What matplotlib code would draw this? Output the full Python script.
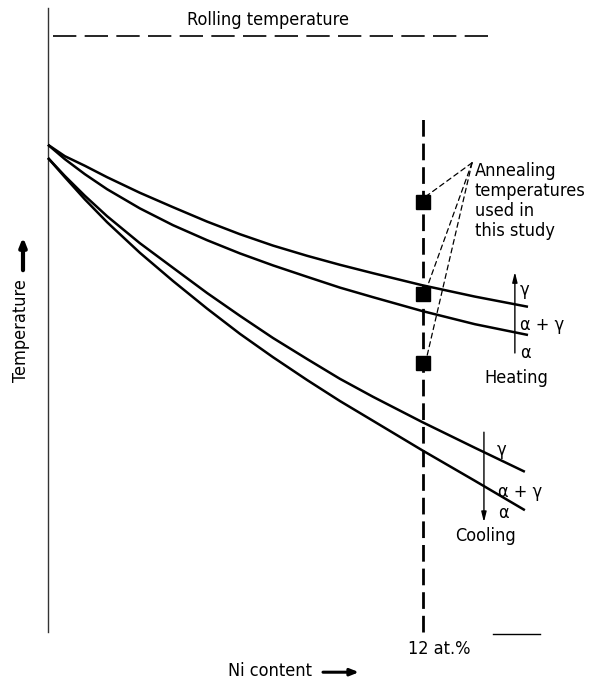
# Schematic: transformation temperatures vs Ni content, heating and cooling
import matplotlib
matplotlib.use('Agg')
import matplotlib.pyplot as plt
from matplotlib import font_manager

# narrow font if there is one, the original lettering is condensed
fonts = font_manager.fontManager.ttflist
names = {f.name for f in fonts}
fs = 12
if 'Liberation Sans Narrow' in names:
    plt.rcParams['font.family'] = ['Liberation Sans Narrow', 'DejaVu Sans']
    fs = 13.5
elif any(f.name == 'DejaVu Sans' and 'condensed' in str(f.stretch) for f in fonts):
    plt.rcParams['font.family'] = ['DejaVu Sans']
    plt.rcParams['font.stretch'] = 'condensed'
    fs = 13
else:
    plt.rcParams['font.family'] = ['DejaVu Sans']

# Ni content (at.%) and temperature (arbitrary units)
ni_heat = [0, 0.54, 1.18, 1.89, 2.94, 4.0, 5.09, 6.14, 7.2, 8.29, 9.34,
           10.4, 11.97, 13.66, 15.36]
t_heat_up = [81.2, 79.3, 77.7, 75.8, 73.2, 70.8, 68.4, 66.3, 64.4, 62.7,
             61.2, 59.8, 57.8, 55.9, 54.2]
t_heat_lo = [81.2, 78.8, 76.3, 73.8, 70.6, 67.8, 65.3, 63.1, 61.1, 59.2,
             57.4, 55.8, 53.5, 51.3, 49.5]
ni_cool = [0, 0.54, 1.18, 1.89, 2.94, 4.0, 5.09, 6.14, 7.2, 8.29, 9.34,
           10.4, 11.97, 13.66, 15.26]
t_cool_up = [79.0, 76.0, 72.7, 69.3, 64.8, 60.7, 56.5, 52.7, 49.0, 45.5,
             42.2, 39.2, 35.0, 30.7, 26.7]
t_cool_lo = [79.0, 75.8, 72.1, 68.3, 63.2, 58.5, 53.9, 49.7, 45.8, 42.0,
             38.5, 35.2, 30.3, 25.2, 20.3]

# annealing temperatures at 12 at.% Ni
ni_anneal = 12.0
t_anneal = [71.7, 56.3, 44.8]

t_rolling = 99.3
ni_roll = [0.16, 14.15]

fig = plt.figure(figsize=(5.96, 6.85), dpi=100)
ax = fig.add_axes([0, 0, 1, 1])
ax.set_xlim(-1.536, 17.536)
ax.set_ylim(-8.833, 105.33)
ax.axis('off')

# left axis line
ax.plot([0, 0], [0, 104], color='#333333', lw=1.0)
# stray bit of bottom axis
ax.plot([14.24, 15.74], [-0.3, -0.3], color='black', lw=1.0)

# rolling temperature
ax.plot(ni_roll, [t_rolling, t_rolling], color='black', lw=1.2, dashes=(14, 5))
ax.text(4.45, 102.0, 'Rolling temperature', fontsize=fs, va='center', ha='left')

# 12 at.% line
ax.plot([ni_anneal, ni_anneal], [0, 86.2], color='black', lw=2.0, dashes=(6, 2.5))
ax.text(11.52, -2.8, '12 at.%', fontsize=fs, va='center', ha='left')

# curves
for xs, ys in [(ni_heat, t_heat_up), (ni_heat, t_heat_lo),
               (ni_cool, t_cool_up), (ni_cool, t_cool_lo)]:
    ax.plot(xs, ys, color='black', lw=1.8, solid_capstyle='butt',
            solid_joinstyle='round')

# annealing squares
ax.plot([ni_anneal] * len(t_anneal), t_anneal, 's', color='black', ms=9.5)

# leader lines to label
anchor = (13.57, 78.2)
for t in t_anneal:
    ax.annotate('', xy=(ni_anneal + 0.12, t + 1.0), xytext=anchor,
                arrowprops=dict(arrowstyle='-', ls=(0, (4, 3)), lw=0.9,
                                color='black', shrinkA=0, shrinkB=0))
ax.text(13.65, 78.4, 'Annealing\ntemperatures\nused in\nthis study',
        fontsize=fs, va='top', ha='left', linespacing=1.15)

# heating arrow and labels
ax.annotate('', xy=(14.94, 60.0), xytext=(14.94, 46.5),
            arrowprops=dict(arrowstyle='-|>,head_width=0.15,head_length=0.6',
                            lw=1.0, color='black', shrinkA=0, shrinkB=0))
ax.text(15.1, 57.0, 'γ', fontsize=fs, va='center', ha='left')
ax.text(15.1, 51.2, 'α + γ', fontsize=fs, va='center', ha='left')
ax.text(15.1, 46.5, 'α', fontsize=fs, va='center', ha='left')
ax.text(15.0, 42.3, 'Heating', fontsize=fs, va='center', ha='center')

# cooling arrow and labels
ax.annotate('', xy=(13.95, 18.3), xytext=(13.95, 33.3),
            arrowprops=dict(arrowstyle='-|>,head_width=0.15,head_length=0.6',
                            lw=1.0, color='black', shrinkA=0, shrinkB=0))
ax.text(14.37, 30.3, 'γ', fontsize=fs, va='center', ha='left')
ax.text(14.4, 23.3, 'α + γ', fontsize=fs, va='center', ha='left')
ax.text(14.4, 19.8, 'α', fontsize=fs, va='center', ha='left')
ax.text(14.0, 16.0, 'Cooling', fontsize=fs, va='center', ha='center')

# axis labels with arrows
ax.text(8.45, -6.5, 'Ni content', fontsize=fs, va='center', ha='right')
ax.annotate('', xy=(9.95, -6.7), xytext=(8.8, -6.7),
            arrowprops=dict(arrowstyle='-|>,head_width=0.2,head_length=0.5',
                            lw=2.2, color='black', shrinkA=0, shrinkB=0))
ax.text(-0.86, 50.3, 'Temperature', fontsize=fs, va='center', ha='center',
        rotation=90)
ax.annotate('', xy=(-0.8, 65.8), xytext=(-0.8, 60.3),
            arrowprops=dict(arrowstyle='-|>,head_width=0.2,head_length=0.5',
                            lw=3.0, color='black', shrinkA=0, shrinkB=0))

fig.savefig('out.png', dpi=100)
